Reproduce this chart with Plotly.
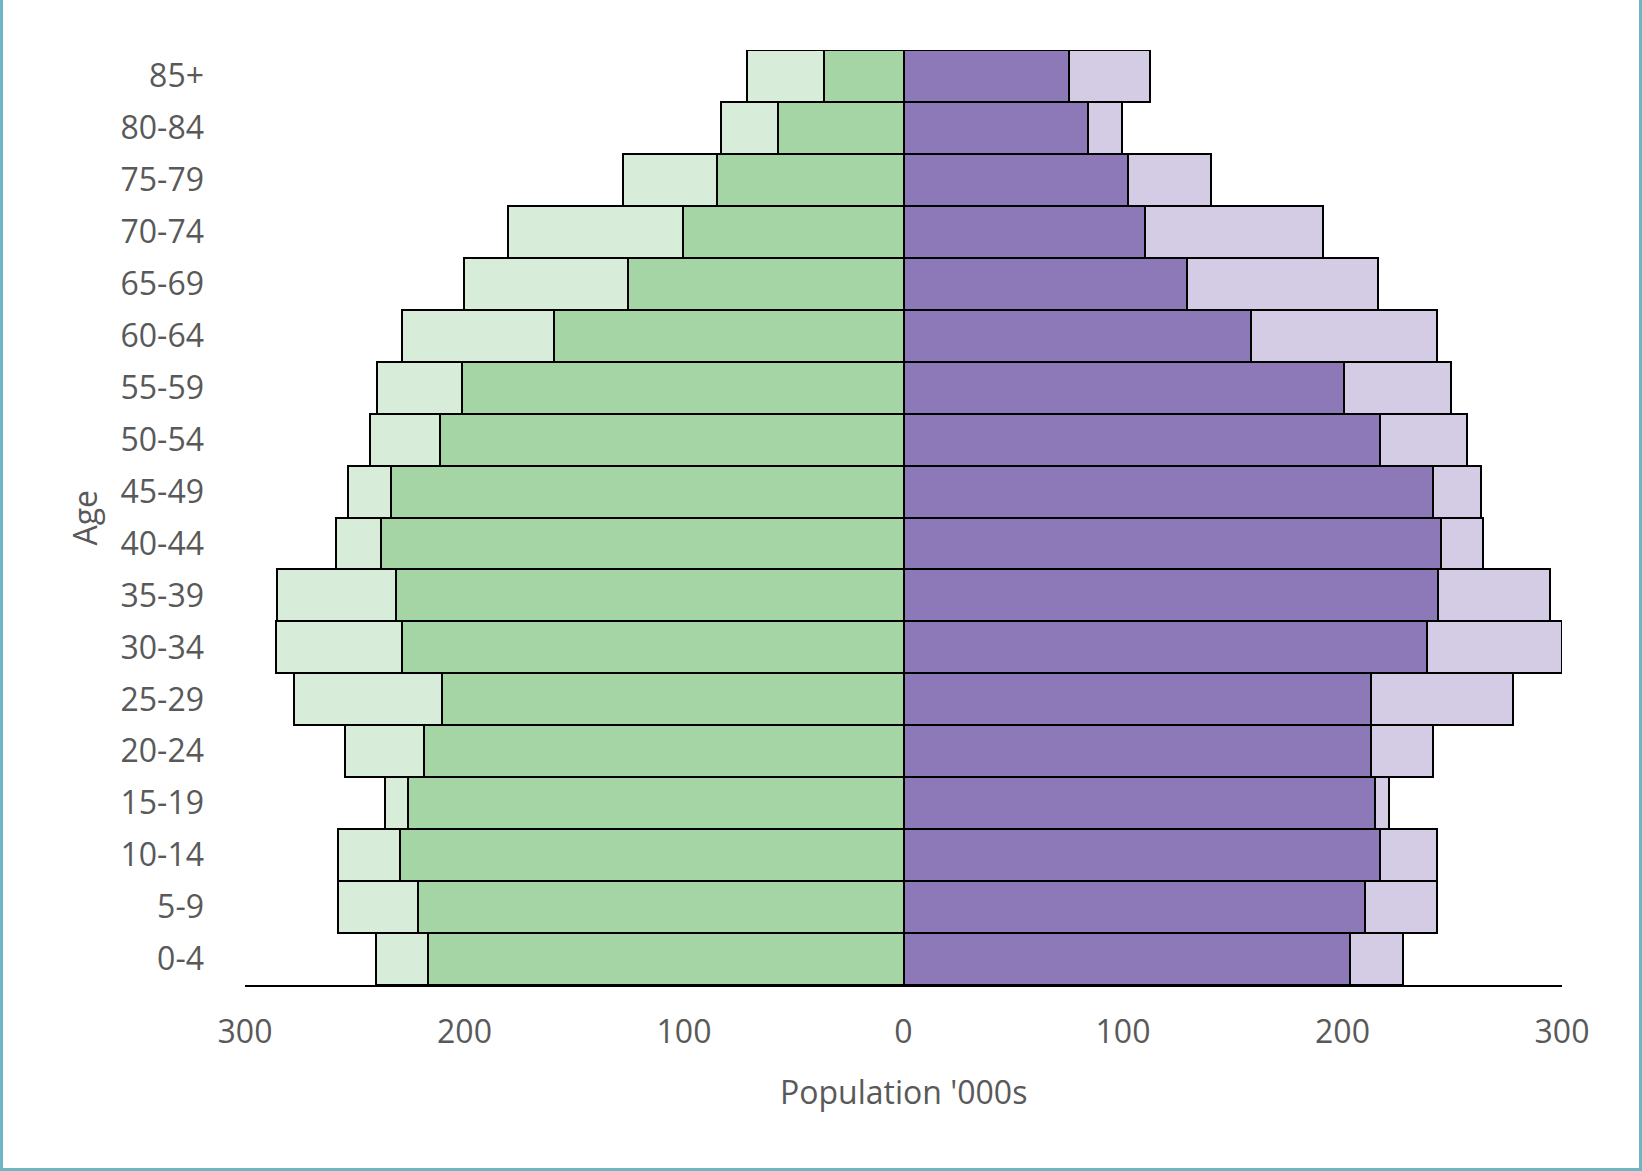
import plotly.graph_objects as go

ages = ["0-4", "5-9", "10-14", "15-19", "20-24", "25-29", "30-34", "35-39", "40-44",
        "45-49", "50-54", "55-59", "60-64", "65-69", "70-74", "75-79", "80-84", "85+"]

# left side (green): inner dark bar and outer light bar, in '000s
left_dark = [216.5, 221.3, 229.4, 225.6, 218.4, 210.3, 228.4, 231.3, 238.0,
             233.7, 211.3, 201.2, 159.3, 125.4, 100.6, 84.9, 57.2, 36.2]
left_light = [240.3, 257.5, 257.5, 236.1, 254.6, 277.5, 286.1, 285.2, 258.5,
              253.2, 243.2, 239.9, 228.4, 200.3, 180.3, 127.8, 83.0, 71.5]
# right side (purple)
right_dark = [203.6, 210.3, 217.0, 214.6, 213.2, 213.2, 238.4, 243.7, 245.1,
              241.3, 217.0, 200.8, 158.3, 129.2, 110.2, 102.5, 83.9, 75.3]
right_light = [227.5, 243.2, 243.2, 221.3, 241.3, 277.5, 300.0, 294.7, 264.2,
               263.2, 256.6, 249.4, 243.2, 216.0, 191.2, 140.2, 99.7, 112.5]

tick_vals = [-300, -200, -100, 0, 100, 200, 300]
tick_text = ["300", "200", "100", "0", "100", "200", "300"]

W, H = 1642, 1171
ML, MR, MT, MB = 245, 80, 50, 186
PW, PH = W - ML - MR, H - MT - MB

line = dict(color="black", width=2)
fig = go.Figure()
fig.add_bar(y=ages, x=[-v for v in left_light], orientation="h",
            marker=dict(color="#D8ECDA", line=line), hoverinfo="skip")
fig.add_bar(y=ages, x=right_light, orientation="h",
            marker=dict(color="#D4CCE4", line=line), hoverinfo="skip")
fig.add_bar(y=ages, x=[-v for v in left_dark], orientation="h",
            marker=dict(color="#A5D5A5", line=line), hoverinfo="skip")
fig.add_bar(y=ages, x=right_dark, orientation="h",
            marker=dict(color="#8E79B8", line=line), hoverinfo="skip")

font_color = "#595959"
FS = 32
fig.update_layout(
    width=W, height=H,
    margin=dict(l=ML, r=MR, t=MT, b=MB),
    barmode="overlay", bargap=0,
    showlegend=False,
    paper_bgcolor="white", plot_bgcolor="white",
    font=dict(family="Open Sans, sans-serif", size=FS, color=font_color),
    xaxis=dict(range=[-300, 300], tickvals=tick_vals, ticktext=tick_text,
               showgrid=False, zeroline=False, showline=True, linecolor="black",
               linewidth=2, ticks="", ticklabelstandoff=18,
               tickfont=dict(size=FS, color=font_color)),
    yaxis=dict(type="category", categoryorder="array", categoryarray=ages,
               range=[-0.5, 17.5], showgrid=False, zeroline=False, showline=False,
               ticks="", ticklabelstandoff=40,
               tickfont=dict(size=FS, color=font_color)),
    annotations=[
        dict(text="Population '000s", xref="paper", yref="paper",
             x=0.5, y=-(1091 - (MT + PH)) / PH, xanchor="center", yanchor="middle",
             showarrow=False, font=dict(size=FS, color=font_color)),
        dict(text="Age", xref="paper", yref="paper",
             x=-(ML - 84) / PW, y=0.5, xanchor="center", yanchor="middle",
             textangle=-90, showarrow=False, font=dict(size=FS, color=font_color)),
    ],
    shapes=[dict(type="rect", xref="paper", yref="paper",
                 x0=-(ML - 1.5) / PW, x1=(W - ML - 1.5) / PW,
                 y0=-(MB - 1.5) / PH, y1=(H - MT - 1.5) / PH,
                 line=dict(color="#6FB6C4", width=3), layer="above")],
)

fig.write_html("out.html")
